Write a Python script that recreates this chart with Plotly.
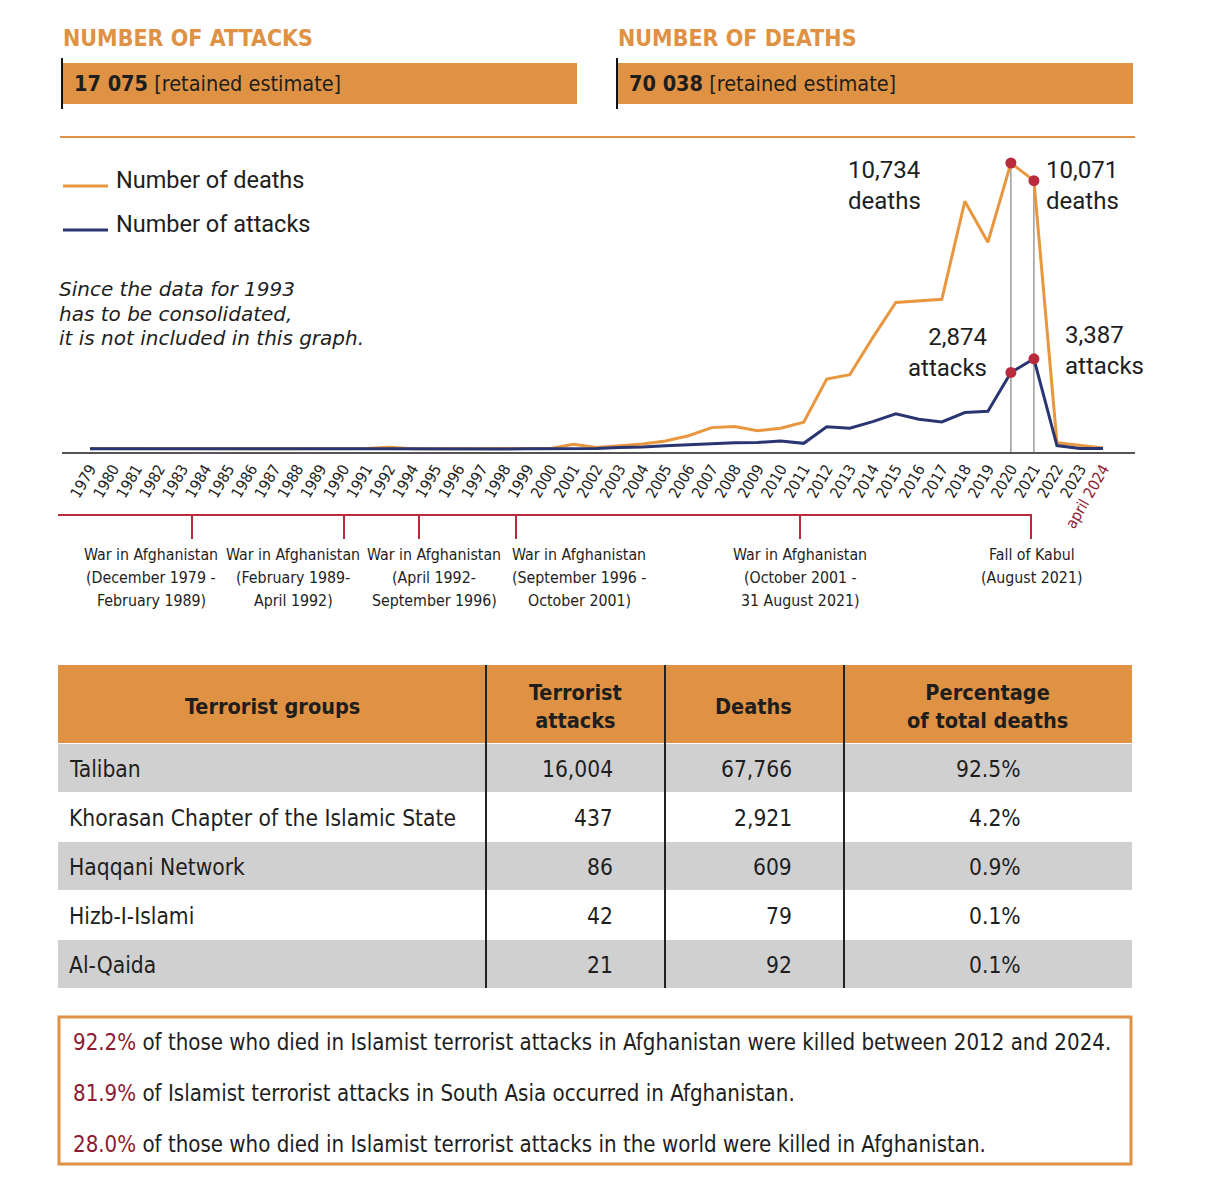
import plotly.graph_objects as go

# ---------------- DATA ----------------
year_labels = ["1979", "1980", "1981", "1982", "1983", "1984", "1985", "1986", "1987", "1988",
               "1989", "1990", "1991", "1992", "1994", "1995", "1996", "1997", "1998", "1999",
               "2000", "2001", "2002", "2003", "2004", "2005", "2006", "2007", "2008", "2009",
               "2010", "2011", "2012", "2013", "2014", "2015", "2016", "2017", "2018", "2019",
               "2020", "2021", "2022", "2023", "april 2024"]

deaths = [25, 20, 20, 15, 15, 20, 15, 15, 15, 15,
          20, 20, 25, 70, 15, 15, 15, 15, 15, 20,
          25, 180, 63, 126, 190, 300, 500, 805, 845, 690,
          780, 1005, 2630, 2790, 4180, 5500, 5560, 5620, 9300, 7760,
          10734, 10071, 240, 126, 40]

attacks = [10, 8, 8, 6, 6, 8, 6, 6, 6, 6,
           8, 8, 10, 12, 6, 6, 6, 6, 6, 8,
           10, 15, 25, 60, 75, 125, 165, 200, 240, 250,
           300, 215, 840, 780, 1030, 1320, 1120, 1020, 1370, 1420,
           2874, 3387, 130, 25, 25]

highlight_years = ["2020", "2021"]
deaths_labels = ["10,734<br>deaths", "10,071<br>deaths"]
attacks_labels = ["2,874<br>attacks", "3,387<br>attacks"]

total_attacks = "17 075"
total_deaths = "70 038"

note_lines = ["Since the data for 1993", "has to be consolidated,", "it is not included in this graph."]

timeline_labels = [["War in Afghanistan", "(December 1979 -", "February 1989)"],
                   ["War in Afghanistan", "(February 1989-", "April 1992)"],
                   ["War in Afghanistan", "(April 1992-", "September 1996)"],
                   ["War in Afghanistan", "(September 1996 -", "October 2001)"],
                   ["War in Afghanistan", "(October 2001 -", "31 August 2021)"],
                   ["Fall of Kabul", "(August 2021)"]]

table_header = ["Terrorist groups", "Terrorist<br>attacks", "Deaths", "Percentage<br>of total deaths"]
groups = ["Taliban", "Khorasan Chapter of the Islamic State", "Haqqani Network", "Hizb-I-Islami", "Al-Qaida"]
group_attacks = ["16,004", "437", "86", "42", "21"]
group_deaths = ["67,766", "2,921", "609", "79", "92"]
group_pct = ["92.5%", "4.2%", "0.9%", "0.1%", "0.1%"]

facts_pct = ["92.2%", "81.9%", "28.0%"]
facts_text = [" of those who died in Islamist terrorist attacks in Afghanistan were killed between 2012 and 2024.",
              " of Islamist terrorist attacks in South Asia occurred in Afghanistan.",
              " of those who died in Islamist terrorist attacks in the world were killed in Afghanistan."]

# ---------------- STYLE ----------------
W, H = 1210, 1194
ORANGE = "#DF9243"
LINE_OR = "#E8973F"
NAVY = "#2A3671"
RED = "#B82A3C"
DARKRED = "#8E1B32"
GRAY = "#D0D0D0"
TXT = "#1E1E1E"
NARROW = "DejaVu Sans Condensed, Liberation Sans Narrow, sans-serif"
DIN = "Roboto, Noto Sans, sans-serif"


def X(px):
    return px / W


def Y(py):
    return 1 - py / H


fig = go.Figure()

fig.add_trace(go.Scatter(x=year_labels, y=deaths, mode="lines",
                         line=dict(color=LINE_OR, width=3), showlegend=False, hoverinfo="skip"))
fig.add_trace(go.Scatter(x=year_labels, y=attacks, mode="lines",
                         line=dict(color=NAVY, width=3), showlegend=False, hoverinfo="skip"))

hl_idx = [year_labels.index(y) for y in highlight_years]
hl_deaths = [deaths[i] for i in hl_idx]
hl_attacks = [attacks[i] for i in hl_idx]

shapes = []
annotations = []

y_min = -110
# vertical guide lines
for i, dv in zip(hl_idx, hl_deaths):
    shapes.append(dict(type="line", xref="x", yref="y", x0=i, x1=i, y0=y_min, y1=dv,
                       line=dict(color="#6a6a6a", width=1), layer="below"))

fig.add_trace(go.Scatter(x=highlight_years + highlight_years, y=hl_deaths + hl_attacks, mode="markers",
                         marker=dict(color=RED, size=11), showlegend=False, hoverinfo="skip"))

# value annotations
val_font = dict(family=DIN, size=24, color=TXT)
annotations.append(dict(x=hl_idx[0], y=hl_deaths[0], xref="x", yref="y", text=deaths_labels[0],
                        showarrow=False, xanchor="right", yanchor="top", align="left",
                        xshift=-88, yshift=9, font=val_font))
annotations.append(dict(x=hl_idx[1], y=hl_deaths[1], xref="x", yref="y", text=deaths_labels[1],
                        showarrow=False, xanchor="left", yanchor="top", align="left",
                        xshift=10, yshift=27, font=val_font))
annotations.append(dict(x=hl_idx[0], y=hl_attacks[0], xref="x", yref="y", text=attacks_labels[0],
                        showarrow=False, xanchor="right", yanchor="top", align="right",
                        xshift=-22, yshift=51, font=val_font))
annotations.append(dict(x=hl_idx[1], y=hl_attacks[1], xref="x", yref="y", text=attacks_labels[1],
                        showarrow=False, xanchor="left", yanchor="top", align="left",
                        xshift=29, yshift=40, font=val_font))

# ---------------- HEADER ----------------
for (x0, x1, title, val) in [(62, 577, "NUMBER OF ATTACKS", total_attacks),
                             (617, 1133, "NUMBER OF DEATHS", total_deaths)]:
    annotations.append(dict(x=X(x0 - 1), y=Y(38), xref="paper", yref="paper", text="<b>" + title + "</b>",
                            showarrow=False, xanchor="left", yanchor="middle",
                            font=dict(family=NARROW, size=23, color=ORANGE)))
    shapes.append(dict(type="rect", xref="paper", yref="paper", x0=X(x0), x1=X(x1), y0=Y(104), y1=Y(63),
                       fillcolor=ORANGE, line=dict(width=0)))
    shapes.append(dict(type="line", xref="paper", yref="paper", x0=X(x0), x1=X(x0), y0=Y(109), y1=Y(58),
                       line=dict(color="#111", width=2)))
    annotations.append(dict(x=X(x0 + 10), y=Y(84), xref="paper", yref="paper",
                            text="<b>" + val + "</b> [retained estimate]",
                            showarrow=False, xanchor="left", yanchor="middle",
                            font=dict(family=NARROW, size=21.5, color=TXT)))

shapes.append(dict(type="line", xref="paper", yref="paper", x0=X(60), x1=X(1135), y0=Y(137), y1=Y(137),
                   line=dict(color=ORANGE, width=2)))

# legend
for (py, col, lab) in [(186, LINE_OR, "Number of deaths"), (230, NAVY, "Number of attacks")]:
    shapes.append(dict(type="line", xref="paper", yref="paper", x0=X(63), x1=X(108), y0=Y(py), y1=Y(py),
                       line=dict(color=col, width=3)))
    annotations.append(dict(x=X(114), y=Y(py - 6), xref="paper", yref="paper", text=lab, showarrow=False,
                            xanchor="left", yanchor="middle", font=dict(family=DIN, size=23.5, color=TXT)))

for k, line in enumerate(note_lines):
    annotations.append(dict(x=X(57), y=Y(289 + 24.5 * k), xref="paper", yref="paper",
                            text="<i>" + line + "</i>", showarrow=False, xanchor="left", yanchor="middle",
                            font=dict(family="DejaVu Sans, sans-serif", size=20, color=TXT)))

# ---------------- TIMELINE ----------------
shapes.append(dict(type="line", xref="paper", yref="paper", x0=X(58), x1=X(1032), y0=Y(515), y1=Y(515),
                   line=dict(color=RED, width=2)))
tl_drop_px = [192, 344, 419, 516, 800, 1031]
tl_text_px = [151, 293, 434, 579, 800, 1032]
for dx, tx, lines in zip(tl_drop_px, tl_text_px, timeline_labels):
    shapes.append(dict(type="line", xref="paper", yref="paper", x0=X(dx), x1=X(dx), y0=Y(515), y1=Y(539),
                       line=dict(color=RED, width=2)))
    for k, line in enumerate(lines):
        annotations.append(dict(x=X(tx), y=Y(554 + 23 * k), xref="paper", yref="paper", text=line,
                                showarrow=False, xanchor="center", yanchor="middle",
                                font=dict(family=NARROW, size=15.8, color=TXT)))

# ---------------- TABLE ----------------
T_L, T_R = 58, 1132
HEAD_T, HEAD_B = 665, 743
ROW_H = 49
col_sep = [486, 665, 844]
shapes.append(dict(type="rect", xref="paper", yref="paper", x0=X(T_L), x1=X(T_R), y0=Y(HEAD_B), y1=Y(HEAD_T),
                   fillcolor=ORANGE, line=dict(width=0), layer="below"))
for r in range(len(groups)):
    top = HEAD_B + r * ROW_H
    fill = GRAY if r % 2 == 0 else "white"
    shapes.append(dict(type="rect", xref="paper", yref="paper", x0=X(T_L), x1=X(T_R), y0=Y(top + ROW_H),
                       y1=Y(top + 1), fillcolor=fill, line=dict(width=0), layer="below"))
table_bottom = HEAD_B + len(groups) * ROW_H
for cx in col_sep:
    shapes.append(dict(type="line", xref="paper", yref="paper", x0=X(cx), x1=X(cx), y0=Y(table_bottom),
                       y1=Y(HEAD_T), line=dict(color="#222", width=2)))

head_cx = [272, 575, 754, 987]
for cx, lab in zip(head_cx, table_header):
    annotations.append(dict(x=X(cx), y=Y((HEAD_T + HEAD_B) / 2 + 2), xref="paper", yref="paper",
                            text="<b>" + lab + "</b>", showarrow=False, xanchor="center", yanchor="middle",
                            align="center", font=dict(family=NARROW, size=21.5, color=TXT)))

body_font = dict(family=NARROW, size=22.6, color=TXT)
for r in range(len(groups)):
    cy = HEAD_B + r * ROW_H + ROW_H / 2 + 1
    annotations.append(dict(x=X(67), y=Y(cy), xref="paper", yref="paper", text=groups[r], showarrow=False,
                            xanchor="left", yanchor="middle", font=body_font))
    for px_r, vals in [(615, group_attacks), (794, group_deaths), (1023, group_pct)]:
        annotations.append(dict(x=X(px_r), y=Y(cy), xref="paper", yref="paper", text=vals[r], showarrow=False,
                                xanchor="right", yanchor="middle", font=body_font))

# ---------------- FACT BOX ----------------
shapes.append(dict(type="rect", xref="paper", yref="paper", x0=X(59), x1=X(1131), y0=Y(1164), y1=Y(1017),
                   fillcolor="rgba(0,0,0,0)", line=dict(color=ORANGE, width=3)))
for k, (p, t) in enumerate(zip(facts_pct, facts_text)):
    annotations.append(dict(x=X(71), y=Y(1042 + 51 * k), xref="paper", yref="paper",
                            text="<span style='color:" + DARKRED + "'>" + p + "</span>" + t,
                            showarrow=False, xanchor="left", yanchor="middle",
                            font=dict(family=NARROW, size=22.1, color=TXT)))

# ---------------- AXES / LAYOUT ----------------
n = len(year_labels)
px_per = (1103 - 90) / (n - 1)
x_range = [-(90 - 62) / px_per, (n - 1) + (1135 - 1103) / px_per]

tick_text = year_labels[:-1] + ["<span style='color:" + DARKRED + "'>" + year_labels[-1] + "</span>"]

y_top = y_min + (452 - 150) / 0.02665

fig.update_layout(
    width=W, height=H,
    margin=dict(l=0, r=0, t=0, b=0),
    paper_bgcolor="white", plot_bgcolor="rgba(0,0,0,0)",
    xaxis=dict(domain=[X(62), X(1135)], type="category", range=x_range,
               tickmode="array", tickvals=year_labels, ticktext=tick_text, tickangle=-60,
               tickfont=dict(family=NARROW, size=15.5, color=TXT),
               showgrid=False, zeroline=False, showline=True, linecolor="#555", linewidth=1.5,
               ticks="", anchor="y"),
    yaxis=dict(domain=[Y(452), Y(150)], range=[y_min, y_top], visible=False, showgrid=False, zeroline=False),
    shapes=shapes, annotations=annotations, showlegend=False,
)

fig.write_html("out.html", post_script="document.body.style.margin='0';",
               config={"displayModeBar": False})
